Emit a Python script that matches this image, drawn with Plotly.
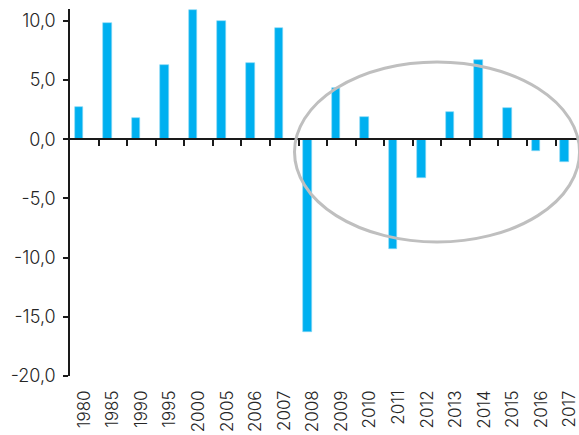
import plotly.graph_objects as go

# Annual growth rate (%) by year
years = ["1980", "1985", "1990", "1995", "2000", "2005", "2006", "2007", "2008",
         "2009", "2010", "2011", "2012", "2013", "2014", "2015", "2016", "2017"]
growth = [2.7, 9.8, 1.8, 6.3, 10.9, 10.0, 6.4, 9.4, -16.3,
          4.3, 1.9, -9.3, -3.3, 2.3, 6.7, 2.6, -1.0, -1.9]

y_ticks = [10, 5, 0, -5, -10, -15, -20]
y_tick_text = [f"{v:.1f}".replace(".", ",") for v in y_ticks]

Y_MIN, Y_MAX = -20, 11
X_RANGE = [-0.5, 17.32]
FONT = "Inter"
TEXT = "#262626"
AXIS = "#1a1a1a"

boundaries = [i + 0.5 for i in range(len(years))]

fig = go.Figure()
fig.add_trace(go.Bar(
    x=years, y=growth,
    marker=dict(color="#00B0F0", line=dict(color="#8ad8f5", width=0.6)),
    width=0.3, offset=-0.34,
    showlegend=False, hoverinfo="x+y",
))
# carrier trace so the category-axis line at y = 0 gets drawn
fig.add_trace(go.Scatter(
    x=boundaries, y=[0] * len(boundaries), xaxis="x2",
    mode="markers", marker=dict(opacity=0), showlegend=False, hoverinfo="skip",
))

# Highlight of the 2008-2017 period
fig.add_shape(
    type="circle", xref="x", yref="y",
    x0=7.36, x1=17.34, y0=-8.68, y1=6.53,
    line=dict(color="#BFBFBF", width=3), fillcolor="rgba(0,0,0,0)",
    layer="above",
)

fig.update_layout(
    width=579, height=435,
    margin=dict(l=70, r=0, t=9, b=59),
    paper_bgcolor="white", plot_bgcolor="white",
    font=dict(family=FONT, color=TEXT, size=17, weight=300),
    bargap=0,
    xaxis=dict(
        type="category", range=X_RANGE,
        showline=False, ticks="", showgrid=False, zeroline=False,
        tickangle=-90, tickfont=dict(size=17, family=FONT, color=TEXT, weight=300),
        ticklabelstandoff=10,
    ),
    xaxis2=dict(
        type="linear", overlaying="x", anchor="free",
        position=(0 - Y_MIN) / (Y_MAX - Y_MIN),
        range=X_RANGE,
        tickvals=boundaries,
        ticks="outside", ticklen=6, tickwidth=1.5, tickcolor=AXIS,
        showline=True, linecolor=AXIS, linewidth=1.5,
        showticklabels=False, showgrid=False, zeroline=False,
    ),
    yaxis=dict(
        range=[Y_MIN, Y_MAX],
        tickvals=y_ticks, ticktext=y_tick_text,
        ticks="outside", ticklen=5, tickwidth=1.5, tickcolor=AXIS,
        showline=True, linecolor=AXIS, linewidth=1.5,
        showgrid=False, zeroline=False,
        tickfont=dict(size=18, family=FONT, color=TEXT, weight=300),
        ticklabelstandoff=4,
    ),
)

fig.write_html("out.html")
